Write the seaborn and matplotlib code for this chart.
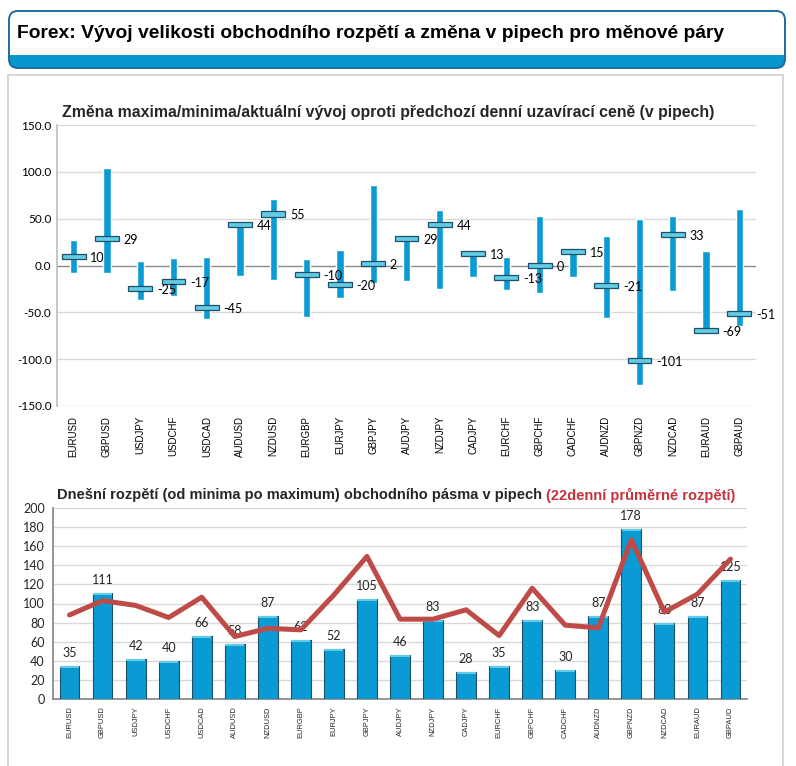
"""
Forex: vyvoj obchodniho rozpeti a zmena v pipech
- horni graf: max/min/aktualni zmena proti predchozi zaviraci cene
- dolni graf: dnesni rozpeti + 22denni prumer
"""
import numpy as np
import matplotlib
matplotlib.use('Agg')
import matplotlib.pyplot as plt
import seaborn as sns
from matplotlib.patches import FancyBboxPatch, Rectangle

# ------------------------------------------------------------
# data
# ------------------------------------------------------------
pairs = ['EURUSD', 'GBPUSD', 'USDJPY', 'USDCHF', 'USDCAD', 'AUDUSD', 'NZDUSD',
         'EURGBP', 'EURJPY', 'GBPJPY', 'AUDJPY', 'NZDJPY', 'CADJPY', 'EURCHF',
         'GBPCHF', 'CADCHF', 'AUDNZD', 'GBPNZD', 'NZDCAD', 'EURAUD', 'GBPAUD']

change_high = [27.5, 103.6, 5, 7.5, 9.3, 48, 71.4, 7, 16.8, 86.4,
               30, 59, 14, 9.3, 53.2, 15, 31.8, 50, 53.2, 15.7, 60.7]
change_low = [-7.9, -7.9, -36.8, -32.5, -57.5, -11, -15.4, -55, -34.6, -19,
              -16.4, -25, -11.8, -26, -29.3, -11.8, -56, -127.9, -27, -70, -64.3]
change_now = [10, 29, -25, -17, -45, 44, 55, -10, -20, 2,
              29, 44, 13, -13, 0, 15, -21, -101, 33, -69, -51]

range_today = [35, 111, 42, 40, 66, 58, 87, 62, 52, 105,
               46, 83, 28, 35, 83, 30, 87, 178, 80, 87, 125]
range_avg22 = [88, 103, 98, 85.3, 106.6, 65.4, 74, 72.4, 109, 149.3,
               83.6, 83.6, 93.4, 66.4, 116, 77.3, 74.5, 166.8, 91, 109.8, 146.5]

top_ticks = [150, 100, 50, 0, -50, -100, -150]
bottom_ticks = list(range(0, 201, 20))

# ------------------------------------------------------------
# barvy / fonty
# ------------------------------------------------------------
BLUE = '#0A9BD4'
CAP = '#62CBE6'
EDGE = '#1D4F66'
LINE_RED = '#BE4B48'
TITLE_RED = '#C8323C'
GRID = '#D9D9D9'
W, H = 796, 766

sns.set_theme(style='white')
plt.rcParams['font.family'] = ['Liberation Sans', 'DejaVu Sans']
NUM_FONT = ['Lato', 'DejaVu Sans']


def px_axes(fig, x0, y0, x1, y1):
    # pixelove souradnice (y shora) -> figure fraction
    return fig.add_axes([x0 / W, 1 - y1 / H, (x1 - x0) / W, (y1 - y0) / H])


fig = plt.figure(figsize=(W / 100, H / 100), dpi=100)

# ------------------------------------------------------------
# pozadi: hlavicka + ramecek panelu
# ------------------------------------------------------------
bg = fig.add_axes([0, 0, 1, 1], zorder=-1)
bg.set_xlim(0, W)
bg.set_ylim(H, 0)
bg.axis('off')

bg.add_patch(Rectangle((8, 75), 775, 700, facecolor='white',
                       edgecolor='#D0D0D0', lw=1.2))

hdr = FancyBboxPatch((9, 11), 776, 57, boxstyle='round,pad=0,rounding_size=9',
                     facecolor='white', edgecolor='none')
bg.add_patch(hdr)
band = Rectangle((8, 55), 780, 14, facecolor='#0596CC', edgecolor='none')
bg.add_patch(band)
band.set_clip_path(hdr)
bg.add_patch(FancyBboxPatch((9, 11), 776, 57, boxstyle='round,pad=0,rounding_size=9',
                            facecolor='none', edgecolor='#1E6A9E', lw=1.4))
bg.text(17, 34, 'Forex: Vývoj velikosti obchodního rozpětí a změna v pipech pro měnové páry',
        fontsize=13.9, fontweight='bold', color='black', va='center', ha='left')

x = np.arange(len(pairs))

# ------------------------------------------------------------
# 1) HORNI GRAF
# ------------------------------------------------------------
ax1 = px_axes(fig, 57, 125, 756, 406)
low = np.array(change_low)
high = np.array(change_high)
ax1.bar(x, high - low, bottom=low, width=0.22, color=BLUE, zorder=3)
ax1.bar(x, 5.5, bottom=np.array(change_now) - 2.75, width=0.72, color=CAP,
        edgecolor=EDGE, linewidth=0.9, zorder=4)
for xi, v in zip(x, change_now):
    ax1.text(xi + 0.5, v - 1.5, f'{v}', fontsize=9, va='center', ha='left',
             family=NUM_FONT, color='black', zorder=5)

ax1.set_xlim(-0.5, len(pairs) - 0.5)
ax1.set_ylim(-150, 150)
ax1.set_yticks(top_ticks)
ax1.set_yticklabels([f'{t:.1f}' for t in top_ticks], family=NUM_FONT, fontsize=8.5)
for t in top_ticks:
    ax1.axhline(t, color=GRID if t != 0 else '#8A8A8A', lw=1, zorder=1)
ax1.set_xticks(x)
ax1.set_xticklabels(pairs, rotation=90, fontsize=7)
ax1.tick_params(axis='both', length=0, pad=4, colors='black')
ax1.tick_params(axis='x', pad=7)
for s in ['top', 'right', 'bottom']:
    ax1.spines[s].set_visible(False)
ax1.spines['left'].set_color('#BFBFBF')
ax1.patch.set_alpha(0)
fig.text(388 / W, 1 - 112 / H,
         'Změna maxima/minima/aktuální vývoj oproti předchozí denní uzavírací ceně (v pipech)',
         fontsize=11.4, fontweight='bold', ha='center', va='center')

# ------------------------------------------------------------
# 2) DOLNI GRAF
# ------------------------------------------------------------
ax2 = px_axes(fig, 53, 508, 747, 699)
sns.barplot(x=pairs, y=range_today, color=BLUE, width=0.6, saturation=1,
            edgecolor=EDGE, linewidth=0.8, ax=ax2, zorder=3)
ax2.bar(x, 2.2, bottom=np.array(range_today) - 2.2, width=0.58, color=CAP,
        edgecolor='none', zorder=4)
ax2.bar_label(ax2.containers[0], labels=[str(v) for v in range_today],
              padding=5, fontsize=9, family=NUM_FONT)
sns.lineplot(x=x, y=range_avg22, color=LINE_RED, lw=3.6, sort=False, ax=ax2, zorder=5)

ax2.set_xlim(-0.5, len(pairs) - 0.5)
ax2.set_ylim(0, 200)
ax2.set_yticks(bottom_ticks)
ax2.set_yticklabels([str(t) for t in bottom_ticks], family=NUM_FONT, fontsize=9)
for t in bottom_ticks[1:]:
    ax2.axhline(t, color=GRID, lw=1, zorder=1)
ax2.set_xticks(x)
ax2.set_xticklabels(pairs, rotation=90, fontsize=5.4)
ax2.set_xticks(np.arange(-0.5, len(pairs)), minor=True)
ax2.tick_params(axis='x', which='major', length=0, pad=5.5)
ax2.tick_params(axis='x', which='minor', length=4, color='#868686', direction='out')
ax2.tick_params(axis='y', length=4, color='#868686', direction='out', pad=2)
ax2.set_xlabel('')
ax2.set_ylabel('')
for s in ['top', 'right']:
    ax2.spines[s].set_visible(False)
for s in ['left', 'bottom']:
    ax2.spines[s].set_color('#868686')
ax2.patch.set_alpha(0)

t1 = fig.text(57 / W, 1 - 495 / H,
              'Dnešní rozpětí (od minima po maximum) obchodního pásma v pipech ',
              fontsize=10.5, fontweight='bold', ha='left', va='center')
fig.canvas.draw()
bb = t1.get_window_extent()
fig.text(bb.x1 / W, 1 - 495 / H, '(22denní průměrné rozpětí)',
         fontsize=10.5, fontweight='bold', ha='left', va='center', color=TITLE_RED)

plt.savefig('out.png', dpi=100)
plt.close()
